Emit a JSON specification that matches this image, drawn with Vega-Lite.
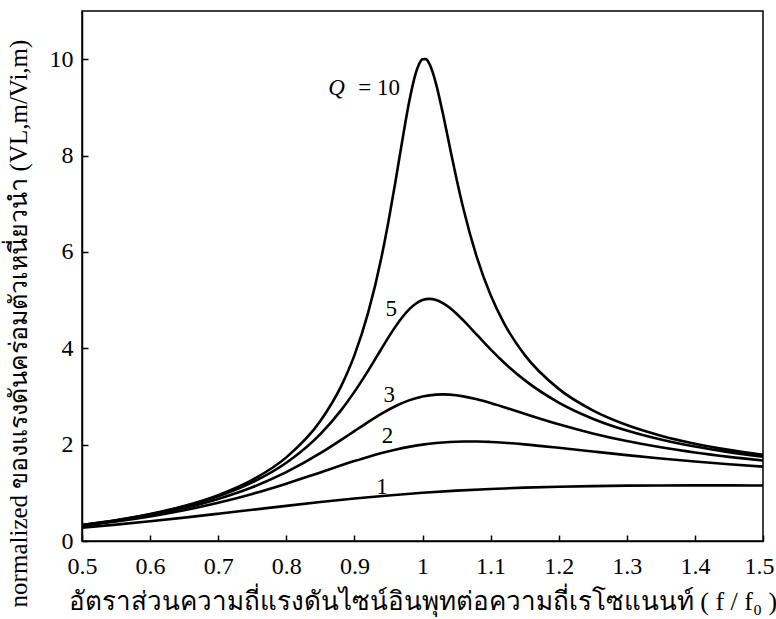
{
  "$schema": "https://vega.github.io/schema/vega-lite/v6.json",
  "width": 681,
  "height": 530,
  "autosize": {"type": "none"},
  "padding": {"left": 82, "top": 11, "right": 13, "bottom": 78},
  "background": "white",
  "config": {
    "view": {"stroke": "black", "strokeWidth": 1.5},
    "font": "Liberation Serif"
  },
  "datasets": {
    "curves": [
      {"x":0.5,"Q":1,"v":0.2774},{"x":0.55,"Q":1,"v":0.3406},{"x":0.6,"Q":1,"v":0.4104},{"x":0.65,"Q":1,"v":0.4859},{"x":0.7,"Q":1,"v":0.5658},{"x":0.75,"Q":1,"v":0.6478},{"x":0.8,"Q":1,"v":0.7295},{"x":0.85,"Q":1,"v":0.808},{"x":0.9,"Q":1,"v":0.8806},{"x":0.95,"Q":1,"v":0.945},{"x":1.0,"Q":1,"v":1.0},{"x":1.05,"Q":1,"v":1.045},{"x":1.1,"Q":1,"v":1.0805},{"x":1.15,"Q":1,"v":1.1073},{"x":1.2,"Q":1,"v":1.1267},{"x":1.25,"Q":1,"v":1.1399},{"x":1.3,"Q":1,"v":1.1483},{"x":1.35,"Q":1,"v":1.1525},{"x":1.4,"Q":1,"v":1.1546},{"x":1.45,"Q":1,"v":1.1543},{"x":1.5,"Q":1,"v":1.1523},
      {"x":0.5,"Q":2,"v":0.3162},{"x":0.55,"Q":2,"v":0.4035},{"x":0.6,"Q":2,"v":0.5093},{"x":0.65,"Q":2,"v":0.6376},{"x":0.7,"Q":2,"v":0.7922},{"x":0.75,"Q":2,"v":0.9762},{"x":0.8,"Q":2,"v":1.1893},{"x":0.85,"Q":2,"v":1.4234},{"x":0.9,"Q":2,"v":1.6582},{"x":0.92,"Q":2,"v":1.7453},{"x":0.94,"Q":2,"v":1.8249},{"x":0.96,"Q":2,"v":1.8949},{"x":0.98,"Q":2,"v":1.9536},{"x":1.0,"Q":2,"v":2.0},{"x":1.02,"Q":2,"v":2.0336},{"x":1.04,"Q":2,"v":2.0549},{"x":1.06,"Q":2,"v":2.0646},{"x":1.08,"Q":2,"v":2.0642},{"x":1.1,"Q":2,"v":2.0553},{"x":1.12,"Q":2,"v":2.0394},{"x":1.15,"Q":2,"v":2.006},{"x":1.2,"Q":2,"v":1.9354},{"x":1.25,"Q":2,"v":1.8582},{"x":1.3,"Q":2,"v":1.7828},{"x":1.35,"Q":2,"v":1.7129},{"x":1.4,"Q":2,"v":1.6497},{"x":1.45,"Q":2,"v":1.5934},{"x":1.5,"Q":2,"v":1.5435},
      {"x":0.5,"Q":3,"v":0.3254},{"x":0.55,"Q":3,"v":0.4194},{"x":0.6,"Q":3,"v":0.5369},{"x":0.65,"Q":3,"v":0.685},{"x":0.7,"Q":3,"v":0.8737},{"x":0.75,"Q":3,"v":1.1163},{"x":0.8,"Q":3,"v":1.4286},{"x":0.85,"Q":3,"v":1.8218},{"x":0.88,"Q":3,"v":2.0927},{"x":0.9,"Q":3,"v":2.281},{"x":0.92,"Q":3,"v":2.4678},{"x":0.94,"Q":3,"v":2.6435},{"x":0.96,"Q":3,"v":2.7973},{"x":0.98,"Q":3,"v":2.9186},{"x":1.0,"Q":3,"v":3.0},{"x":1.02,"Q":3,"v":3.0386},{"x":1.03,"Q":3,"v":3.0425},{"x":1.04,"Q":3,"v":3.037},{"x":1.06,"Q":3,"v":3.0017},{"x":1.08,"Q":3,"v":2.941},{"x":1.1,"Q":3,"v":2.8636},{"x":1.12,"Q":3,"v":2.7766},{"x":1.15,"Q":3,"v":2.64},{"x":1.2,"Q":3,"v":2.4216},{"x":1.25,"Q":3,"v":2.2321},{"x":1.3,"Q":3,"v":2.0742},{"x":1.35,"Q":3,"v":1.9439},{"x":1.4,"Q":3,"v":1.8362},{"x":1.45,"Q":3,"v":1.7466},{"x":1.5,"Q":3,"v":1.6713},
      {"x":0.5,"Q":5,"v":0.3304},{"x":0.55,"Q":5,"v":0.4284},{"x":0.6,"Q":5,"v":0.5529},{"x":0.65,"Q":5,"v":0.7137},{"x":0.7,"Q":5,"v":0.9265},{"x":0.75,"Q":5,"v":1.2162},{"x":0.8,"Q":5,"v":1.6246},{"x":0.85,"Q":5,"v":2.2201},{"x":0.88,"Q":5,"v":2.7065},{"x":0.9,"Q":5,"v":3.0948},{"x":0.92,"Q":5,"v":3.5314},{"x":0.94,"Q":5,"v":3.9961},{"x":0.95,"Q":5,"v":4.226},{"x":0.96,"Q":5,"v":4.4438},{"x":0.97,"Q":5,"v":4.6395},{"x":0.98,"Q":5,"v":4.8029},{"x":0.99,"Q":5,"v":4.9252},{"x":1.0,"Q":5,"v":5.0},{"x":1.01,"Q":5,"v":5.0252},{"x":1.02,"Q":5,"v":5.0028},{"x":1.03,"Q":5,"v":4.9387},{"x":1.04,"Q":5,"v":4.8408},{"x":1.05,"Q":5,"v":4.718},{"x":1.06,"Q":5,"v":4.5787},{"x":1.08,"Q":5,"v":4.2778},{"x":1.1,"Q":5,"v":3.9785},{"x":1.12,"Q":5,"v":3.7007},{"x":1.15,"Q":5,"v":3.3387},{"x":1.2,"Q":5,"v":2.8731},{"x":1.25,"Q":5,"v":2.5384},{"x":1.3,"Q":5,"v":2.292},{"x":1.35,"Q":5,"v":2.1053},{"x":1.4,"Q":5,"v":1.96},{"x":1.45,"Q":5,"v":1.8443},{"x":1.5,"Q":5,"v":1.7503},
      {"x":0.5,"Q":10,"v":0.3326},{"x":0.55,"Q":10,"v":0.4324},{"x":0.6,"Q":10,"v":0.56},{"x":0.65,"Q":10,"v":0.727},{"x":0.7,"Q":10,"v":0.9519},{"x":0.75,"Q":10,"v":1.2672},{"x":0.8,"Q":10,"v":1.7355},{"x":0.85,"Q":10,"v":2.4895},{"x":0.88,"Q":10,"v":3.198},{"x":0.9,"Q":10,"v":3.8527},{"x":0.92,"Q":10,"v":4.7276},{"x":0.94,"Q":10,"v":5.9058},{"x":0.95,"Q":10,"v":6.6298},{"x":0.96,"Q":10,"v":7.4356},{"x":0.97,"Q":10,"v":8.2837},{"x":0.98,"Q":10,"v":9.0862},{"x":0.99,"Q":10,"v":9.7059},{"x":0.995,"Q":10,"v":9.9004},{"x":1.0,"Q":10,"v":10.0},{"x":1.005,"Q":10,"v":10.0002},{"x":1.01,"Q":10,"v":9.9058},{"x":1.02,"Q":10,"v":9.4831},{"x":1.03,"Q":10,"v":8.8662},{"x":1.04,"Q":10,"v":8.1821},{"x":1.05,"Q":10,"v":7.5136},{"x":1.06,"Q":10,"v":6.9006},{"x":1.08,"Q":10,"v":5.8797},{"x":1.1,"Q":10,"v":5.1041},{"x":1.12,"Q":10,"v":4.5128},{"x":1.15,"Q":10,"v":3.8626},{"x":1.2,"Q":10,"v":3.1574},{"x":1.25,"Q":10,"v":2.7116},{"x":1.3,"Q":10,"v":2.4069},{"x":1.35,"Q":10,"v":2.1865},{"x":1.4,"Q":10,"v":2.0203},{"x":1.45,"Q":10,"v":1.8907},{"x":1.5,"Q":10,"v":1.7872}
    ],
    "labels": [
      {"x":0.967,"y":9.4,"t":"= 10"},
      {"x":0.9626,"y":4.81,"t":"5"},
      {"x":0.9596,"y":3.04,"t":"3"},
      {"x":0.957,"y":2.17,"t":"2"},
      {"x":0.949,"y":1.125,"t":"1"}
    ],
    "qlabel": [
      {"x":0.886,"y":9.4,"t":"Q"}
    ]
  },
  "layer": [
    {
      "data": {"name": "curves"},
      "mark": {"type": "line", "color": "black", "strokeWidth": 2.6, "interpolate": "monotone", "clip": true},
      "encoding": {
        "x": {
          "field": "x", "type": "quantitative",
          "scale": {"domain": [0.5, 1.5], "nice": false, "zero": false},
          "axis": {
            "values": [0.5,0.6,0.7,0.8,0.9,1,1.1,1.2,1.3,1.4,1.5],
            "format": "~g",
            "title": "อัตราส่วนความถี่แรงดันไซน์อินพุทต่อความถี่เรโซแนนท์ ( f / f₀ )",
            "titleFont": "Liberation Serif",
            "titleFontSize": 26,
            "titleFontWeight": "normal",
            "titleColor": "black",
            "titleY": 60,
            "titleBaseline": "middle",
            "labelFont": "Liberation Serif",
            "labelFontSize": 24,
            "labelColor": "black",
            "labelPadding": 19,
            "labelFlush": false,
            "labelOverlap": false,
            "labelOffset": {"condition": {"test": "datum.value == 1.5", "value": -4}, "value": 0},
            "tickSize": -6,
            "tickColor": "black",
            "tickWidth": 1.5,
            "domainColor": "black",
            "domainWidth": 1.5,
            "grid": false
          }
        },
        "y": {
          "field": "v", "type": "quantitative",
          "scale": {"domain": [0, 11], "nice": false, "zero": true},
          "axis": {
            "values": [0,2,4,6,8,10],
            "title": "normalized ของแรงดันคร่อมตัวเหนี่ยวนำ (VL,m/Vi,m)",
            "titleFont": "Liberation Serif",
            "titleFontSize": 25,
            "titleFontWeight": "normal",
            "titleColor": "black",
            "titleX": -64,
            "titleY": 312,
            "titleBaseline": "middle",
            "labelFont": "Liberation Serif",
            "labelFontSize": 24,
            "labelColor": "black",
            "labelPadding": 15,
            "labelFlush": false,
            "labelOverlap": false,
            "tickSize": -6,
            "tickColor": "black",
            "tickWidth": 1.5,
            "domainColor": "black",
            "domainWidth": 1.5,
            "grid": false
          }
        },
        "detail": {"field": "Q", "type": "nominal"}
      }
    },
    {
      "data": {"name": "labels"},
      "mark": {"type": "text", "font": "Liberation Serif", "fontSize": 23, "color": "black", "align": "right", "baseline": "middle"},
      "encoding": {
        "x": {"field": "x", "type": "quantitative"},
        "y": {"field": "y", "type": "quantitative"},
        "text": {"field": "t"}
      }
    },
    {
      "data": {"name": "qlabel"},
      "mark": {"type": "text", "font": "Liberation Serif", "fontSize": 23, "fontStyle": "italic", "color": "black", "align": "right", "baseline": "middle"},
      "encoding": {
        "x": {"field": "x", "type": "quantitative"},
        "y": {"field": "y", "type": "quantitative"},
        "text": {"field": "t"}
      }
    }
  ]
}
